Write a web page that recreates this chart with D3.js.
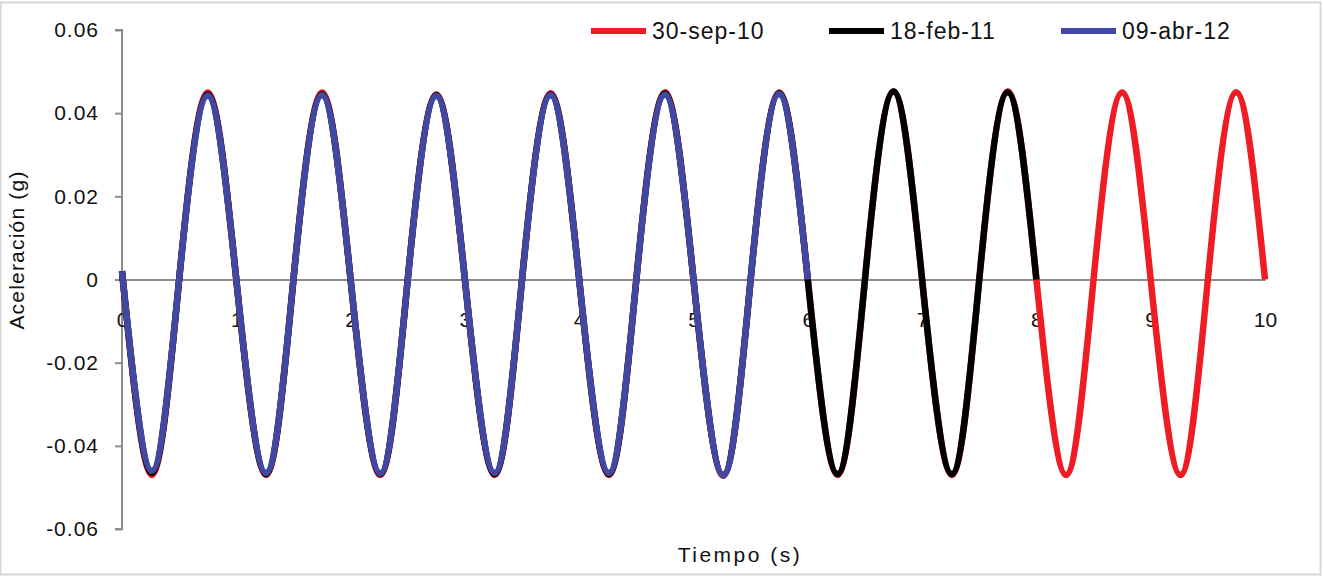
<!DOCTYPE html>
<html>
<head>
<meta charset="utf-8">
<script src="https://cdn.jsdelivr.net/npm/d3@7"></script>
<style>
  html, body { margin: 0; padding: 0; background: #fff; }
  svg text { font-family: "Liberation Sans", Arial, sans-serif; fill: #111; }
</style>
</head>
<body>
<svg id="chart" width="1323" height="577"></svg>
<script>
// ---- Data ----
const time = [0, 0.26, 0.5, 0.75, 1.0, 1.26, 1.5, 1.75, 2.0, 2.26, 2.5, 2.75, 3.0, 3.26, 3.5, 3.75,
  4.0, 4.26, 4.5, 4.75, 5.0, 5.26, 5.5, 5.75, 6.0, 6.26, 6.5, 6.75, 7.0, 7.26, 7.5, 7.75,
  8.0, 8.26, 8.5, 8.75, 9.0, 9.26, 9.5, 9.75, 10.0];
const sep10 = [0.002, -0.047, 0, 0.045, 0, -0.047, 0, 0.045, 0, -0.047, 0, 0.0445, 0, -0.047, 0, 0.0448,
  0, -0.047, 0, 0.045, 0, -0.0472, 0, 0.045, 0, -0.047, 0, 0.0452, 0, -0.047, 0, 0.0452,
  0, -0.047, 0, 0.045, 0, -0.047, 0, 0.045, 0];
const feb11 = [0.002, -0.0465, 0, 0.0445, 0, -0.0468, 0, 0.0445, 0, -0.0468, 0, 0.0443, 0, -0.0468, 0, 0.0445,
  0, -0.0468, 0, 0.0447, 0, -0.047, 0, 0.0448, 0, -0.0468, 0, 0.0452, 0, -0.0468, 0, 0.045, 0];
const abr12 = [0.002, -0.046, 0, 0.0442, 0, -0.0465, 0, 0.0443, 0, -0.0466, 0, 0.0441, 0, -0.0465, 0, 0.0443,
  0, -0.0465, 0, 0.0444, 0, -0.0471, 0, 0.0446, 0];
const seriesNames = ["30-sep-10", "18-feb-11", "09-abr-12"];
const seriesColors = ["#ee1d25", "#000000", "#4148a1"];
const seriesValues = [sep10, feb11, abr12];
const yTicks = [-0.06, -0.04, -0.02, 0, 0.02, 0.04, 0.06];
const yTickLabels = ["-0.06", "-0.04", "-0.02", "0", "0.02", "0.04", "0.06"];
const xTicks = [0, 1, 2, 3, 4, 5, 6, 7, 8, 9, 10];

// ---- Layout ----
const svg = d3.select("#chart");
const x = d3.scaleLinear().domain([0, 10]).range([122, 1265]);
const y = d3.scaleLinear().domain([-0.06, 0.06]).range([529, 30]);

// frame
svg.append("rect").attr("x", 0.5).attr("y", 2.5).attr("width", 1320).attr("height", 572)
  .attr("fill", "none").attr("stroke", "#d6d6d6").attr("stroke-width", 2);

// y axis
const yAxis = d3.axisLeft(y).tickValues(yTicks).tickSize(7).tickPadding(16)
  .tickFormat((d, i) => yTickLabels[i]);
const gy = svg.append("g").attr("transform", `translate(${x(0)},0)`).call(yAxis);
gy.select(".domain").attr("stroke", "#8c8c8c").attr("stroke-width", 2).attr("d", `M-7,${y(0.06)}H0V${y(-0.06)}H-7`);
gy.selectAll(".tick line").attr("stroke", "#8c8c8c").attr("stroke-width", 2);
gy.selectAll(".tick text").attr("font-size", 21).style("letter-spacing", "1px").attr("fill", "#111");

// x axis at zero line, labels below
const xAxis = d3.axisBottom(x).tickValues(xTicks).tickSize(0).tickPadding(33).tickFormat(d3.format("d"));
const gx = svg.append("g").attr("transform", `translate(0,${y(0)})`).call(xAxis);
gx.select(".domain").attr("stroke", "#8c8c8c").attr("stroke-width", 2);
gx.selectAll(".tick text").attr("font-size", 21).attr("fill", "#111");

// lines
const line = d3.line().x((d, i) => x(time[i])).y(d => y(d)).curve(d3.curveNatural);
seriesValues.forEach((vals, k) => {
  svg.append("path").datum(vals).attr("d", line)
    .attr("fill", "none").attr("stroke", seriesColors[k]).attr("stroke-width", 6.5)
    .attr("stroke-linejoin", "round");
});

// legend
const legendX = [591, 829, 1061];
seriesNames.forEach((name, k) => {
  const g = svg.append("g").attr("transform", `translate(${legendX[k]},31)`);
  g.append("line").attr("x1", 0).attr("x2", 55).attr("y1", 0).attr("y2", 0)
    .attr("stroke", seriesColors[k]).attr("stroke-width", 6);
  g.append("text").attr("x", 61).attr("y", 8).attr("font-size", 23).style("letter-spacing", "1px").text(name);
});

// axis titles
svg.append("text").attr("x", 740).attr("y", 562).attr("text-anchor", "middle")
  .attr("font-size", 21).style("letter-spacing", "2.5px").text("Tiempo (s)");
svg.append("text").attr("transform", "translate(24,250) rotate(-90)").attr("text-anchor", "middle")
  .attr("font-size", 21).style("letter-spacing", "1.2px").text("Aceleración (g)");
</script>
</body>
</html>
